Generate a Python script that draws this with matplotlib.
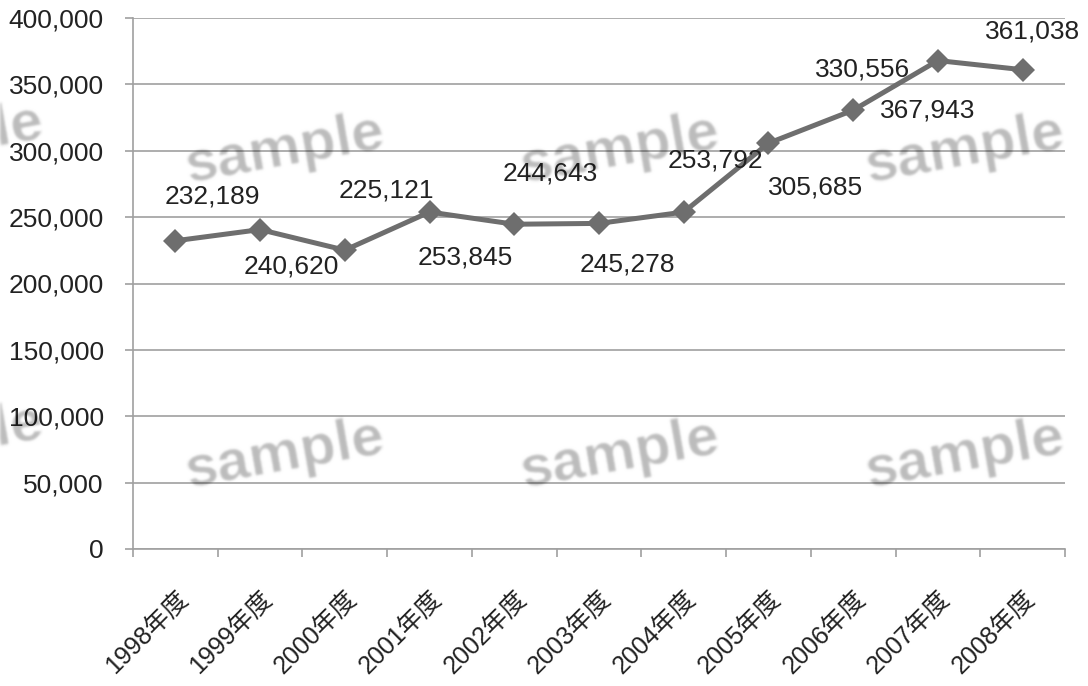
import matplotlib
matplotlib.use("Agg")
import numpy as np
import matplotlib.pyplot as plt
from matplotlib.ticker import FuncFormatter, FixedLocator, MultipleLocator

years = ["1998年度", "1999年度", "2000年度", "2001年度", "2002年度", "2003年度",
         "2004年度", "2005年度", "2006年度", "2007年度", "2008年度"]
values = [232189, 240620, 225121, 253845, 244643, 245278,
          253792, 305685, 330556, 367943, 361038]

# label offsets from each marker, in pixels (dx, dy; dy up is positive)
label_offsets = [(37, 44), (31, -37), (42, 60), (36, -45), (36, 51), (28, -41),
                 (32, 52), (47, -44), (9, 41), (-10, -50), (10, 38)]

fonts = ["Liberation Sans", "Noto Sans CJK JP", "DejaVu Sans"]
plt.rcParams["font.family"] = fonts

DPI = 100


def soft_blur(im, dpi, sigma=1.4):
    # gaussian blur for the watermark text
    pad = int(sigma * 3) + 1
    src = np.pad(im, [(pad, pad), (pad, pad), (0, 0)], "constant")
    k = np.arange(-pad, pad + 1)
    k = np.exp(-0.5 * (k / sigma) ** 2)
    k /= k.sum()
    out = np.apply_along_axis(lambda r: np.convolve(r, k, mode="same"), 0, src)
    out = np.apply_along_axis(lambda r: np.convolve(r, k, mode="same"), 1, out)
    return out, -pad, -pad


fig = plt.figure(figsize=(10.88, 6.86), dpi=DPI)
ax = fig.add_axes([133 / 1088, 1 - 549 / 686, (1065 - 133) / 1088, (549 - 18) / 686])

grid_c = "#a0a0a0"
text_c = "#222222"
line_c = "#6e6e6e"

x = list(range(len(years)))
ax.plot(x, values, color=line_c, lw=3.6, marker="D", markersize=12,
        markeredgewidth=0, zorder=3, clip_on=False)

for xi, v, (dx, dy) in zip(x, values, label_offsets):
    ax.annotate(f"{v:,}", (xi, v), xytext=(dx * 72 / DPI, dy * 72 / DPI),
                textcoords="offset points", ha="center", va="center",
                fontsize=19, color=text_c, zorder=4)

ax.set_xlim(-0.5, len(years) - 0.5)
ax.set_ylim(0, 400000)
ax.yaxis.set_major_locator(MultipleLocator(50000))
ax.yaxis.set_major_formatter(FuncFormatter(lambda v, p: f"{int(v):,}"))
ax.grid(axis="y", color=grid_c, lw=1.2, zorder=0)

# category ticks sit on the boundaries, labels at the centres
ax.xaxis.set_major_locator(FixedLocator([i - 0.5 for i in range(len(years) + 1)]))
ax.xaxis.set_major_formatter(FuncFormatter(lambda v, p: ""))
ax.xaxis.set_minor_locator(FixedLocator(x))
ax.set_xticklabels(years, minor=True)
ax.tick_params(axis="x", which="major", length=6, width=1.2, color=grid_c, direction="out")
ax.tick_params(axis="x", which="minor", length=0, pad=27)
for lab in ax.get_xticklabels(minor=True):
    lab.set_rotation(45)
    lab.set_rotation_mode("anchor")
    lab.set_ha("right")
    lab.set_va("top")
    lab.set_fontsize(18)
    lab.set_color(text_c)

ax.tick_params(axis="y", length=6, width=1.2, color=grid_c, pad=15,
               labelsize=19, labelcolor=text_c)

for side in ("top", "right"):
    ax.spines[side].set_visible(False)
for side in ("left", "bottom"):
    ax.spines[side].set_color(grid_c)
    ax.spines[side].set_linewidth(1.2)

# watermark
marks = [(-56, 140), (285, 150), (620, 150), (965, 150),
         (-56, 440), (285, 455), (620, 455), (965, 455)]
for mx, my in marks:
    t = fig.text(mx / 1088, 1 - my / 686, "sample", fontsize=42, fontweight="bold",
                 color="black", alpha=0.27, rotation=10, ha="center", va="center",
                 family="Liberation Sans", zorder=10)
    t.set_agg_filter(soft_blur)

fig.savefig("out.png", dpi=DPI)
